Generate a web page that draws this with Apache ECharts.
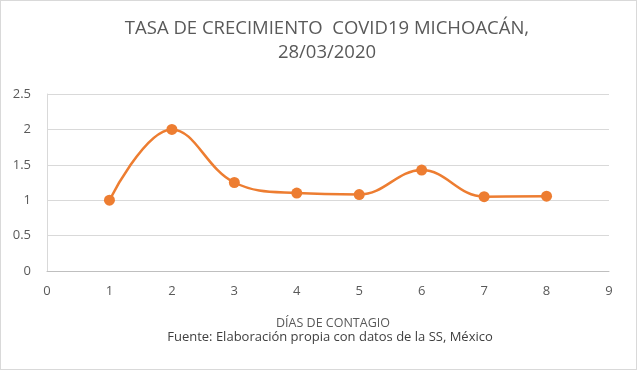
<!DOCTYPE html>
<html><head><meta charset="utf-8">
<script src="https://cdn.jsdelivr.net/npm/echarts@6/dist/echarts.min.js"></script>
<style>html,body{margin:0;padding:0;background:#fff}#c{width:637px;height:370px;box-sizing:border-box;border:1px solid #d9d9d9}</style>
</head><body><div id="c"></div>
<script>
var days = [1, 2, 3, 4, 5, 6, 7, 8];
var rates = [1.0, 2.0, 1.25, 1.1, 1.08, 1.425, 1.05, 1.056];
var xTicks = [0, 9, 1];
var yTicks = [0, 2.5, 0.5];
var FONT = '"Open Sans", "Liberation Sans", sans-serif';
var chart = echarts.init(document.getElementById('c'));
chart.setOption({
  animation: false,
  title: [
    {text: 'TASA DE CRECIMIENTO  COVID19 MICHOACÁN,\n28/03/2020', left: 321, top: 11, textAlign: 'center',
     textStyle: {fontFamily: FONT, fontSize: 18.5, fontWeight: 'normal', color: '#595959', lineHeight: 24}},
    {text: 'DÍAS DE CONTAGIO', left: 327, top: 311, textAlign: 'center',
     textStyle: {fontFamily: FONT, fontSize: 12.5, fontWeight: 'normal', color: '#595959'}},
    {text: 'Fuente: Elaboración propia con datos de la SS, México', left: 324, top: 325, textAlign: 'center',
     textStyle: {fontFamily: FONT, fontSize: 13, fontWeight: 'normal', color: '#404040'}}
  ],
  grid: {left: 46, right: 27, top: 93, bottom: 98, containLabel: false},
  xAxis: {type: 'value', min: xTicks[0], max: xTicks[1], interval: xTicks[2],
    axisLine: {show: true, lineStyle: {color: '#bfbfbf'}}, axisTick: {show: false},
    splitLine: {show: false},
    axisLabel: {color: '#595959', fontFamily: FONT, fontSize: 13, margin: 14}},
  yAxis: {type: 'value', min: yTicks[0], max: yTicks[1], interval: yTicks[2],
    axisLine: {show: true, lineStyle: {color: '#d9d9d9'}}, axisTick: {show: false},
    splitLine: {lineStyle: {color: '#d9d9d9'}},
    axisLabel: {color: '#595959', fontFamily: FONT, fontSize: 13, margin: 16}},
  series: [{type: 'line', smooth: 0.4, data: days.map(function(d, i){return [d, rates[i]];}),
    symbol: 'circle', symbolSize: 11, lineStyle: {color: '#ed7d31', width: 2.5},
    itemStyle: {color: '#ed7d31'}}]
});
</script></body></html>
